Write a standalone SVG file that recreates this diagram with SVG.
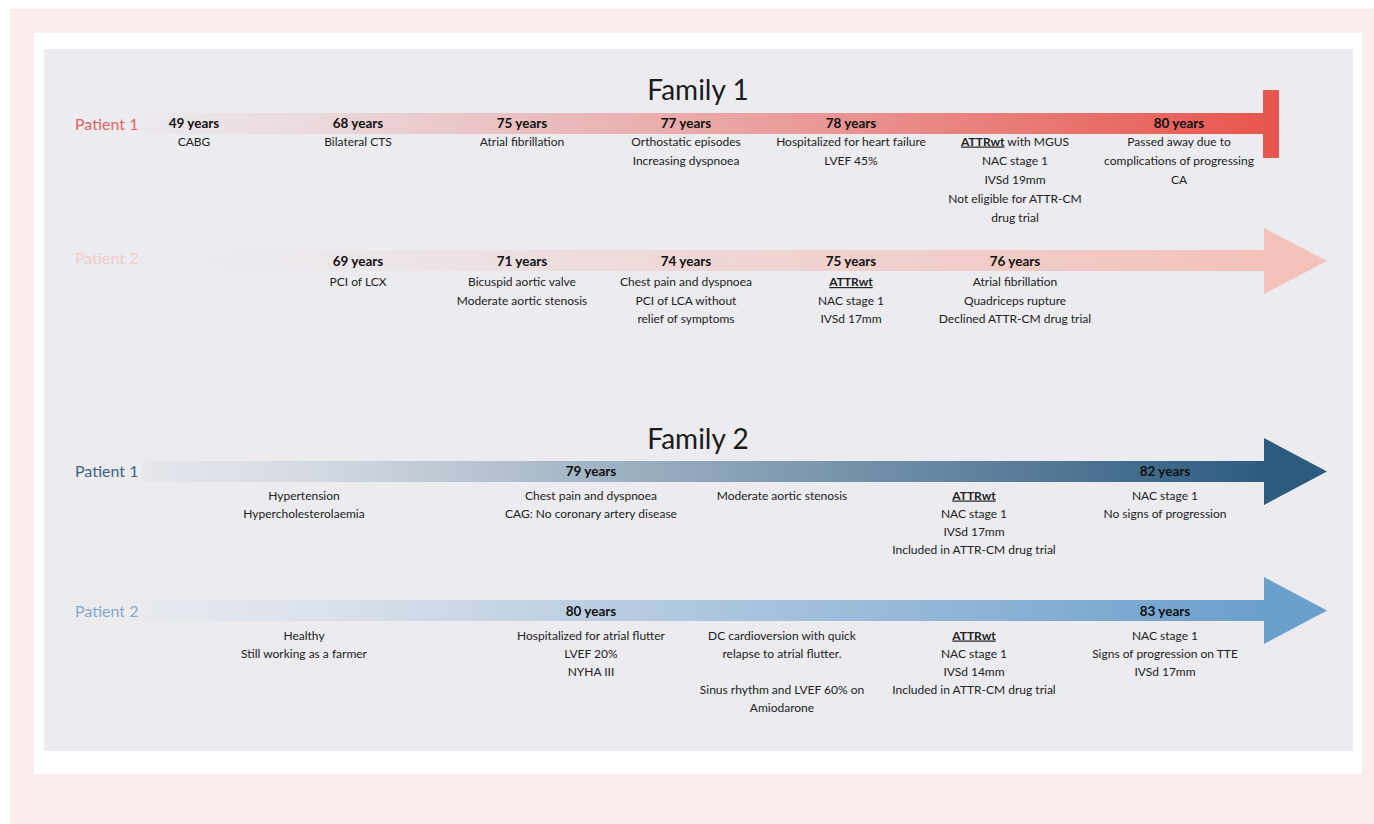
<svg xmlns="http://www.w3.org/2000/svg" width="1374" height="824" viewBox="0 0 1374 824">
<defs>
<style>
.t{font-family:Lato,"Liberation Sans",sans-serif;font-size:12px;fill:#222;text-anchor:middle}
.y{font-family:Lato,"Liberation Sans",sans-serif;font-size:13.5px;font-weight:700;fill:#111;text-anchor:middle}
.u{font-weight:700;text-decoration:underline}
.lab{font-family:Lato,"Liberation Sans",sans-serif;font-size:16px}
.ttl{font-family:Lato,"Liberation Sans",sans-serif;font-size:28px;fill:#1a1a1a;text-anchor:middle}
</style>
<linearGradient id="g1" gradientUnits="userSpaceOnUse" x1="143" y1="0" x2="1263" y2="0">
<stop offset="0" stop-color="#e8574f" stop-opacity="0.02"/>
<stop offset="0.15" stop-color="#e8574f" stop-opacity="0.12"/>
<stop offset="0.5" stop-color="#e8574f" stop-opacity="0.45"/>
<stop offset="1" stop-color="#e8574f" stop-opacity="1"/>
</linearGradient>
<linearGradient id="g2" gradientUnits="userSpaceOnUse" x1="143" y1="0" x2="1264" y2="0">
<stop offset="0" stop-color="#f3c2bb" stop-opacity="0"/>
<stop offset="0.15" stop-color="#f3c2bb" stop-opacity="0.08"/>
<stop offset="0.5" stop-color="#f3c2bb" stop-opacity="0.5"/>
<stop offset="1" stop-color="#f3c2bb" stop-opacity="1"/>
</linearGradient>
<linearGradient id="g3" gradientUnits="userSpaceOnUse" x1="143" y1="0" x2="1264" y2="0">
<stop offset="0" stop-color="#2d5b80" stop-opacity="0.03"/>
<stop offset="0.15" stop-color="#2d5b80" stop-opacity="0.12"/>
<stop offset="1" stop-color="#2d5b80" stop-opacity="1"/>
</linearGradient>
<linearGradient id="g4" gradientUnits="userSpaceOnUse" x1="143" y1="0" x2="1264" y2="0">
<stop offset="0" stop-color="#6b9fcc" stop-opacity="0.03"/>
<stop offset="0.15" stop-color="#6b9fcc" stop-opacity="0.12"/>
<stop offset="1" stop-color="#6b9fcc" stop-opacity="1"/>
</linearGradient>
</defs>
<rect x="0" y="0" width="1374" height="824" fill="#ffffff"/>
<rect x="10" y="9" width="1364" height="815" fill="#fbeced"/>
<rect x="34" y="33" width="1328" height="741" fill="#ffffff"/>
<rect x="44" y="49" width="1309" height="702" fill="#ebebf0"/>

<g id="connectors">
<path d="M143 113 H1263 V134 H143 Z" fill="url(#g1)"/>
<rect x="1263" y="90" width="16" height="68" fill="#e5564f"/>
<path d="M143 250 H1264 V228 L1327 261 L1264 294 V271 H143 Z" fill="url(#g2)"/>
<path d="M143 461 H1264 V438 L1327 471.5 L1264 505 V482 H143 Z" fill="url(#g3)"/>
<path d="M143 600 H1264 V577 L1327 610.5 L1264 644 V621 H143 Z" fill="url(#g4)"/>
</g>

<g id="titles">
<text class="ttl" x="698" y="100">Family 1</text>
<text class="ttl" x="698" y="449">Family 2</text>
</g>

<g id="patient-labels">
<text class="lab" x="75" y="130" fill="#e0635e">Patient 1</text>
<text class="lab" x="75" y="264" fill="#f2cdca">Patient 2</text>
<text class="lab" x="75" y="477" fill="#3f6384">Patient 1</text>
<text class="lab" x="75" y="617" fill="#87a9c9">Patient 2</text>
</g>

<g id="f1p1-49">
<text class="y" x="194" y="128">49 years</text>
<text class="t" x="194" y="145.5">CABG</text>
</g>
<g id="f1p1-68">
<text class="y" x="358" y="128">68 years</text>
<text class="t" x="358" y="145.5">Bilateral CTS</text>
</g>
<g id="f1p1-75">
<text class="y" x="522" y="128">75 years</text>
<text class="t" x="522" y="145.5">Atrial fibrillation</text>
</g>
<g id="f1p1-77">
<text class="y" x="686" y="128">77 years</text>
<text class="t" x="686" y="145.5">Orthostatic episodes</text>
<text class="t" x="686" y="164.5">Increasing dyspnoea</text>
</g>
<g id="f1p1-78">
<text class="y" x="851" y="128">78 years</text>
<text class="t" x="851" y="145.5">Hospitalized for heart failure</text>
<text class="t" x="851" y="164.5">LVEF 45%</text>
</g>
<g id="f1p1-attr">
<text class="t" x="1015" y="145.5"><tspan class="u">ATTRwt</tspan> with MGUS</text>
<text class="t" x="1015" y="164.5">NAC stage 1</text>
<text class="t" x="1015" y="183.5">IVSd 19mm</text>
<text class="t" x="1015" y="202.5">Not eligible for ATTR-CM</text>
<text class="t" x="1015" y="221.5">drug trial</text>
</g>
<g id="f1p1-80">
<text class="y" x="1179" y="128">80 years</text>
<text class="t" x="1179" y="145.5">Passed away due to</text>
<text class="t" x="1179" y="164.5">complications of progressing</text>
<text class="t" x="1179" y="183.5">CA</text>
</g>

<g id="f1p2-69">
<text class="y" x="358" y="266">69 years</text>
<text class="t" x="358" y="286">PCI of LCX</text>
</g>
<g id="f1p2-71">
<text class="y" x="522" y="266">71 years</text>
<text class="t" x="522" y="286">Bicuspid aortic valve</text>
<text class="t" x="522" y="304.5">Moderate aortic stenosis</text>
</g>
<g id="f1p2-74">
<text class="y" x="686" y="266">74 years</text>
<text class="t" x="686" y="286">Chest pain and dyspnoea</text>
<text class="t" x="686" y="304.5">PCI of LCA without</text>
<text class="t" x="686" y="323">relief of symptoms</text>
</g>
<g id="f1p2-75">
<text class="y" x="851" y="266">75 years</text>
<text class="t" x="851" y="286"><tspan class="u">ATTRwt</tspan></text>
<text class="t" x="851" y="304.5">NAC stage 1</text>
<text class="t" x="851" y="323">IVSd 17mm</text>
</g>
<g id="f1p2-76">
<text class="y" x="1015" y="266">76 years</text>
<text class="t" x="1015" y="286">Atrial fibrillation</text>
<text class="t" x="1015" y="304.5">Quadriceps rupture</text>
<text class="t" x="1015" y="323">Declined ATTR-CM drug trial</text>
</g>

<g id="f2p1-hist">
<text class="t" x="304" y="499.5">Hypertension</text>
<text class="t" x="304" y="517.8">Hypercholesterolaemia</text>
</g>
<g id="f2p1-79">
<text class="y" x="591" y="476">79 years</text>
<text class="t" x="591" y="499.5">Chest pain and dyspnoea</text>
<text class="t" x="591" y="517.8">CAG: No coronary artery disease</text>
</g>
<g id="f2p1-as">
<text class="t" x="782" y="499.5">Moderate aortic stenosis</text>
</g>
<g id="f2p1-attr">
<text class="t" x="974" y="499.5"><tspan class="u">ATTRwt</tspan></text>
<text class="t" x="974" y="517.8">NAC stage 1</text>
<text class="t" x="974" y="536">IVSd 17mm</text>
<text class="t" x="974" y="554.2">Included in ATTR-CM drug trial</text>
</g>
<g id="f2p1-82">
<text class="y" x="1165" y="476">82 years</text>
<text class="t" x="1165" y="499.5">NAC stage 1</text>
<text class="t" x="1165" y="517.8">No signs of progression</text>
</g>

<g id="f2p2-hist">
<text class="t" x="304" y="639.5">Healthy</text>
<text class="t" x="304" y="657.8">Still working as a farmer</text>
</g>
<g id="f2p2-80">
<text class="y" x="591" y="616">80 years</text>
<text class="t" x="591" y="639.5">Hospitalized for atrial flutter</text>
<text class="t" x="591" y="657.8">LVEF 20%</text>
<text class="t" x="591" y="676">NYHA III</text>
</g>
<g id="f2p2-dc">
<text class="t" x="782" y="639.5">DC cardioversion with quick</text>
<text class="t" x="782" y="657.8">relapse to atrial flutter.</text>
<text class="t" x="782" y="694">Sinus rhythm and LVEF 60% on</text>
<text class="t" x="782" y="712.2">Amiodarone</text>
</g>
<g id="f2p2-attr">
<text class="t" x="974" y="639.5"><tspan class="u">ATTRwt</tspan></text>
<text class="t" x="974" y="657.8">NAC stage 1</text>
<text class="t" x="974" y="676">IVSd 14mm</text>
<text class="t" x="974" y="694.2">Included in ATTR-CM drug trial</text>
</g>
<g id="f2p2-83">
<text class="y" x="1165" y="616">83 years</text>
<text class="t" x="1165" y="639.5">NAC stage 1</text>
<text class="t" x="1165" y="657.8">Signs of progression on TTE</text>
<text class="t" x="1165" y="676">IVSd 17mm</text>
</g>
</svg>
